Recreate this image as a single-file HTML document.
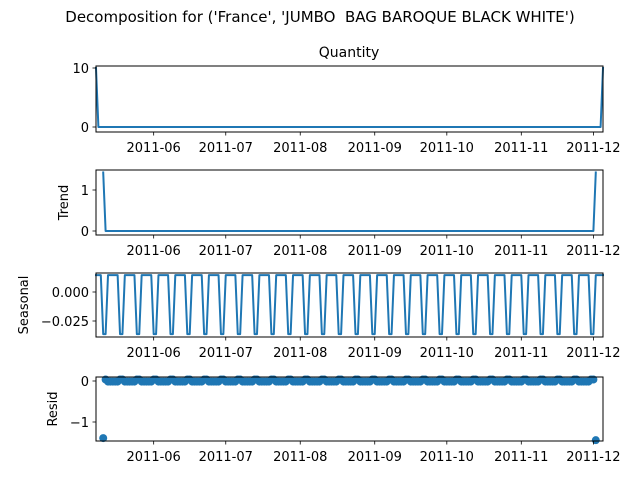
<!DOCTYPE html>
<html><head><meta charset="utf-8">
<style>
body{margin:0;background:#fff;}
svg{display:block;font-family:"DejaVu Sans","Liberation Sans",sans-serif;}
</style></head>
<body>
<svg id="chart" width="640" height="480" viewBox="0 0 640 480">
<text x="320" y="22" font-size="15" text-anchor="middle">Decomposition for ('France', 'JUMBO&#160; BAG BAROQUE BLACK WHITE')</text>
<text x="349" y="57" font-size="14" text-anchor="middle">Quantity</text>
</svg>
<script>
// ---- data ----
const startDate = "2011-05-08";
const numDays = 212;
const quantityDays = [0, 211];
const quantityValues = [10, 10];
const seasonalCycle = [0.0145, 0.0145, 0.0145, -0.0363, -0.0363, 0.0145, 0.0145];
const xTickLabels = ["2011-06","2011-07","2011-08","2011-09","2011-10","2011-11","2011-12"];
const xTickDates = ["2011-06-01","2011-07-01","2011-08-01","2011-09-01","2011-10-01","2011-11-01","2011-12-01"];
const quantityTicks = [0, 10];
const quantityTickLabels = ["0", "10"];
const trendTicks = [0, 1];
const trendTickLabels = ["0", "1"];
const seasonalTicks = [0, -0.025];
const seasonalTickLabels = ["0.000", "\u22120.025"];
const residTicks = [0, -1];
const residTickLabels = ["0", "\u22121"];

// ---- derived series ----
const quantity = [];
for (let i = 0; i < numDays; i++) quantity.push(0);
quantityDays.forEach((d, k) => { quantity[d] = quantityValues[k]; });
const trend = quantity.map((v, i) => {
  if (i < 3 || i > numDays - 4) return null;
  let s = 0; for (let j = i - 3; j <= i + 3; j++) s += quantity[j]; return s / 7;
});
const seasonal = quantity.map((v, i) => seasonalCycle[i % 7]);
const resid = quantity.map((v, i) => trend[i] === null ? null : v - trend[i] - seasonal[i]);

// ---- layout ----
const svg = document.getElementById('chart');
const NS = 'http://www.w3.org/2000/svg';
const X0 = 96, X1 = 603;
const t0 = Date.parse(startDate);
const dayMs = 86400000;
const xOfDay = d => X0 + d * (X1 - X0) / (numDays - 1);
const xOfDate = s => xOfDay((Date.parse(s) - t0) / dayMs);

function mk(tag, attrs, parent) {
  const e = document.createElementNS(NS, tag);
  for (const k in attrs) e.setAttribute(k, attrs[k]);
  (parent || svg).appendChild(e);
  return e;
}

function panel(name, top, bottom, v0, p0, v1, p1, series, ticks, tickLabels, ylabel, ylabelX, scatter) {
  const y = v => p0 + (v - v0) * (p1 - p0) / (v1 - v0);
  const g = mk('g', {});
  
  
  if (scatter) {
    series.forEach((v, i) => {
      if (v === null) return;
      const c = mk('circle', {cx: xOfDay(i), cy: y(v), r: 4, fill: '#1f77b4'}, g);
      
      
    });
  } else {
    let d = '', pen = false;
    series.forEach((v, i) => {
      if (v === null) { pen = false; return; }
      d += (pen ? 'L' : 'M') + xOfDay(i).toFixed(2) + ' ' + y(v).toFixed(2);
      pen = true;
    });
    const p = mk('path', {d: d, fill: 'none', stroke: '#1f77b4', 'stroke-width': 2, 'stroke-linejoin': 'round', 'stroke-linecap': 'square'}, g);
    
    
  }
  const r = mk('rect', {x: X0, y: top, width: X1 - X0, height: bottom - top, fill: 'none', stroke: '#000', 'stroke-width': 1}, g);
  
  
  ticks.forEach((tv, k) => {
    const yy = y(tv);
    mk('line', {x1: X0 - 3.5, x2: X0, y1: yy, y2: yy, stroke: '#000', 'stroke-width': 0.8}, g);
    const t = mk('text', {x: X0 - 7, y: yy + 5, 'font-size': 13, 'text-anchor': 'end'}, g);
    t.textContent = tickLabels[k];
    
    
  });
  xTickDates.forEach((ds, k) => {
    const xx = xOfDate(ds);
    mk('line', {x1: xx, x2: xx, y1: bottom, y2: bottom + 3.5, stroke: '#000', 'stroke-width': 0.8}, g);
    const t = mk('text', {x: xx, y: bottom + 20, 'font-size': 13, 'text-anchor': 'middle'}, g);
    t.textContent = xTickLabels[k];
    
    
  });
  if (ylabel) {
    const cy = (top + bottom) / 2;
    const t = mk('text', {x: ylabelX, y: cy, 'font-size': 13, 'text-anchor': 'middle', transform: 'rotate(-90 ' + ylabelX + ' ' + cy + ')'}, g);
    t.textContent = ylabel;
    
    
  }
}

panel('quantity', 66, 132, 0, 127, 10, 68, quantity, quantityTicks, quantityTickLabels, null, 0, false);
panel('trend', 170, 235, 0, 231, 1, 190, trend, trendTicks, trendTickLabels, 'Trend', 68, false);
panel('seasonal', 273, 337, 0, 292, -0.025, 321, seasonal, seasonalTicks, seasonalTickLabels, 'Seasonal', 28, false);
panel('resid', 377, 441, 0, 381, -1, 422, resid, residTicks, residTickLabels, 'Resid', 57, true);
</script>
</body></html>
